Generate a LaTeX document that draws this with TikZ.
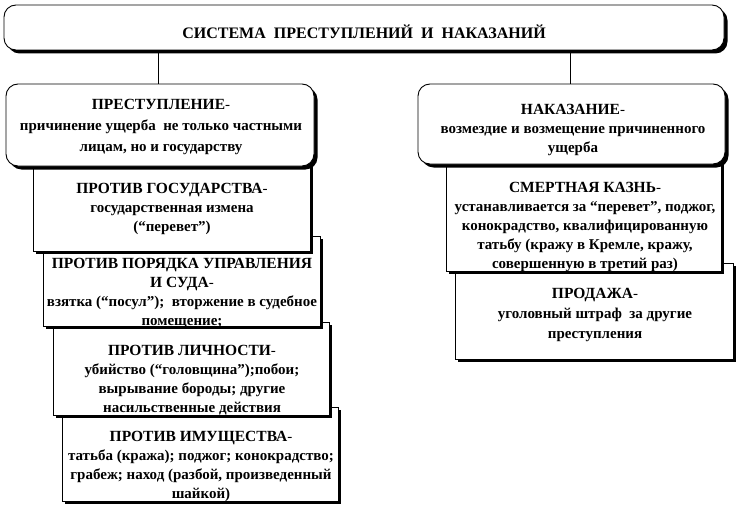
\documentclass[tikz,border=0pt]{standalone}
\usepackage{fontspec}
\setmainfont{Liberation Serif}[BoldFont={Liberation Serif Bold}]
\usetikzlibrary{shadows}
\newcommand\hd[1]{{\fontsize{15.5}{19}\selectfont\bfseries #1}{\mdseries -}}
\newcommand\hdn[1]{{\fontsize{15.5}{19}\selectfont\bfseries #1}}
\tikzset{
  rbox/.style={draw, line width=0.9pt, fill=white, rounded corners=12pt,
     drop shadow={shadow xshift=3.5pt, shadow yshift=-3.5pt, fill=black, opacity=1}},
  sbox/.style={draw, line width=0.7pt, fill=white,
     drop shadow={shadow xshift=2.5pt, shadow yshift=-2.5pt, fill=black, opacity=1}},
  txt/.style={align=center, font=\rmfamily\fontsize{15}{19}\selectfont\bfseries, inner sep=0pt},
  link/.style={draw, line width=0.5pt}
}
\newcommand\bx[6]{\node[#6, inner sep=0pt, minimum width={(#4-#2)*1pt}, minimum height={(#5-#3)*1pt}] (#1) at ({(#2+#4)/2},{(#3+#5)/2}) {};}
\begin{document}
\begin{tikzpicture}[x=1pt,y=-1pt]
\useasboundingbox (0,0) rectangle (738,508);
% top
\bx{top}{4}{5}{724}{50}{rbox}
\node[txt, font=\rmfamily\fontsize{16}{17}\selectfont\bfseries] (toptxt) at (364,32) {СИСТЕМА\ \ ПРЕСТУПЛЕНИЙ\ \ И\ \ НАКАЗАНИЙ};
% left column, bottom to top
\bx{prop}{62}{407}{338}{501}{sbox}
\node[txt] (proptxt) at (201,466) {\hd{ПРОТИВ ИМУЩЕСТВА}\\татьба (кража); поджог; конокрадство;\\грабеж; наход (разбой, произведенный\\шайкой)};
\bx{pers}{53}{322}{329}{415}{sbox}
\node[txt] (perstxt) at (192,380) {\hd{ПРОТИВ ЛИЧНОСТИ}\\убийство (“головщина”);побои;\\вырывание бороды; другие\\насильственные действия};
\bx{ord}{43}{236}{320}{326}{sbox}
\node[txt] (ordtxt) at (182,293) {\hdn{ПРОТИВ ПОРЯДКА УПРАВЛЕНИЯ}\\\hd{И СУДА}\\взятка (“посул”);\ \ вторжение в судебное\\помещение;};
\bx{state}{33}{160}{310}{251}{sbox}
\node[txt] (statetxt) at (172,209) {\hd{ПРОТИВ ГОСУДАРСТВА}\\государственная измена\\(“перевет”)};
\bx{crime}{6}{84}{314}{166}{rbox}
\node[txt, font=\rmfamily\fontsize{15}{21}\selectfont\bfseries] (crimetxt) at (161,127) {\hd{ПРЕСТУПЛЕНИЕ}\\причинение ущерба\ \ не только частными\\лицам, но и государству};
% right column
\bx{sale}{455}{263}{733}{359}{sbox}
\node[txt, font=\rmfamily\fontsize{15}{20}\selectfont\bfseries] (saletxt) at (595,315) {\hd{ПРОДАЖА}\\уголовный штраф\ \ за другие\\преступления};
\bx{death}{446}{160}{721}{271}{sbox}
\node[txt] (deathtxt) at (585,227) {\hd{СМЕРТНАЯ КАЗНЬ}\\устанавливается за “перевет”, поджог,\\конокрадство, квалифицированную\\татьбу (кражу в Кремле, кражу,\\совершенную в третий раз)};
\bx{pun}{418}{84}{725}{164}{rbox}
\node[txt] (puntxt) at (573,130) {\hd{НАКАЗАНИЕ}\\возмездие и возмещение причиненного\\ущерба};
% links
\draw[link] (top.south -| 158,0) -- (crime.north -| 158,0);
\draw[link] (top.south -| 570,0) -- (pun.north -| 570,0);
\end{tikzpicture}
\end{document}
